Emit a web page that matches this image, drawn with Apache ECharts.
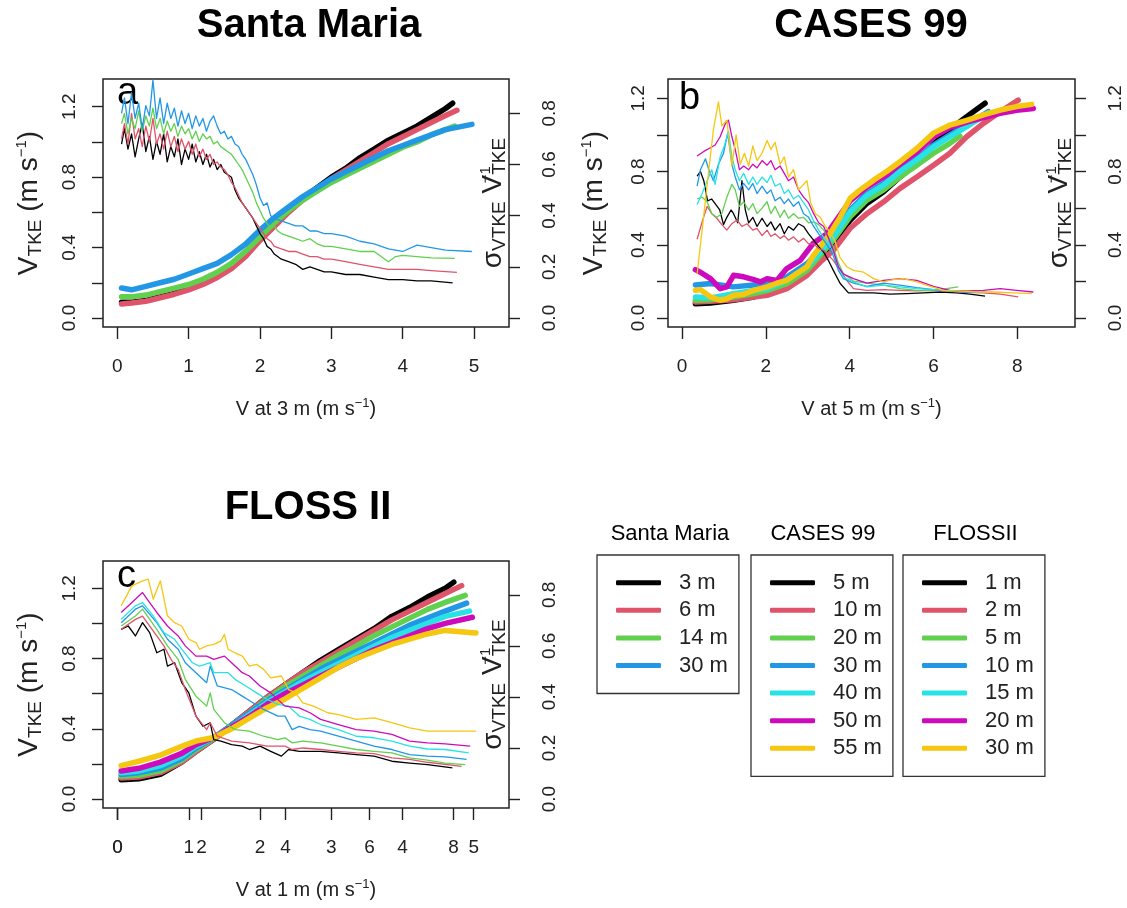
<!DOCTYPE html>
<html><head><meta charset="utf-8">
<script src="https://cdn.jsdelivr.net/npm/echarts@6/dist/echarts.min.js"></script>
<style>html,body{margin:0;padding:0;background:#fff}#chart{width:1127px;height:908px}</style>
</head><body><div id="chart"></div>
<script>
const FONT = '"Liberation Sans", Arial, Helvetica, sans-serif';
const COLORS = ['#000000', '#DF536B', '#61D04F', '#2297E6', '#28E2E5', '#CD0BBC', '#F5C710'];

// ---------- Santa Maria (x = V at 3 m) ----------
const smHeights = ['3 m', '6 m', '14 m', '30 m'];
const smV3 = [[0.06,0.09],[0.2,0.09],[0.4,0.10],[0.6,0.12],[0.8,0.14],[1.0,0.17],[1.2,0.20],[1.4,0.24],[1.6,0.29],[1.8,0.36],[2.0,0.45],[2.2,0.53],[2.4,0.61],[2.6,0.68],[2.8,0.74],[3.0,0.80],[3.2,0.85],[3.4,0.91],[3.6,0.96],[3.8,1.01],[4.0,1.05],[4.2,1.09],[4.4,1.14],[4.6,1.19],[4.7,1.22]];
const smV6 = [[0.06,0.08],[0.2,0.085],[0.4,0.095],[0.6,0.115],[0.8,0.135],[1.0,0.16],[1.2,0.19],[1.4,0.23],[1.6,0.28],[1.8,0.35],[2.0,0.44],[2.2,0.52],[2.4,0.60],[2.6,0.67],[2.8,0.73],[3.0,0.79],[3.2,0.84],[3.4,0.89],[3.6,0.94],[3.8,0.99],[4.0,1.03],[4.2,1.07],[4.4,1.11],[4.6,1.15],[4.76,1.18]];
const smV14 = [[0.06,0.12],[0.2,0.12],[0.4,0.13],[0.6,0.15],[0.8,0.17],[1.0,0.19],[1.2,0.22],[1.4,0.26],[1.6,0.31],[1.8,0.38],[2.0,0.46],[2.2,0.54],[2.4,0.61],[2.6,0.67],[2.8,0.72],[3.0,0.77],[3.2,0.81],[3.4,0.85],[3.6,0.89],[3.8,0.93],[4.0,0.97],[4.2,1.00],[4.4,1.04],[4.6,1.07],[4.73,1.09]];
const smV30 = [[0.06,0.17],[0.2,0.16],[0.4,0.18],[0.6,0.20],[0.8,0.22],[1.0,0.25],[1.2,0.28],[1.4,0.31],[1.6,0.36],[1.8,0.42],[2.0,0.50],[2.2,0.57],[2.4,0.63],[2.6,0.69],[2.8,0.74],[3.0,0.79],[3.2,0.83],[3.4,0.87],[3.6,0.91],[3.8,0.95],[4.0,0.98],[4.2,1.01],[4.4,1.04],[4.6,1.07],[4.97,1.10]];
const smS3 = [[0.06,0.68],[0.1,0.74],[0.15,0.66],[0.2,0.72],[0.25,0.63],[0.3,0.70],[0.35,0.76],[0.4,0.65],[0.45,0.71],[0.5,0.62],[0.55,0.69],[0.6,0.64],[0.65,0.72],[0.7,0.61],[0.75,0.67],[0.8,0.63],[0.85,0.70],[0.9,0.60],[0.95,0.66],[1.0,0.62],[1.05,0.68],[1.1,0.61],[1.15,0.65],[1.2,0.60],[1.25,0.64],[1.3,0.59],[1.35,0.62],[1.4,0.58],[1.45,0.60],[1.5,0.57],[1.55,0.56],[1.6,0.55],[1.65,0.50],[1.7,0.47],[1.75,0.45],[1.8,0.43],[1.85,0.41],[1.9,0.39],[1.95,0.36],[2.0,0.33],[2.05,0.31],[2.1,0.28],[2.15,0.27],[2.2,0.25],[2.3,0.23],[2.4,0.22],[2.5,0.21],[2.6,0.19],[2.7,0.20],[2.8,0.19],[2.9,0.18],[3.0,0.18],[3.2,0.17],[3.4,0.17],[3.6,0.16],[3.8,0.15],[4.0,0.15],[4.2,0.145],[4.4,0.145],[4.7,0.137]];
const smS6 = [[0.06,0.70],[0.1,0.76],[0.15,0.68],[0.2,0.80],[0.25,0.70],[0.3,0.74],[0.35,0.67],[0.4,0.75],[0.45,0.69],[0.5,0.78],[0.55,0.68],[0.6,0.72],[0.65,0.66],[0.7,0.73],[0.75,0.67],[0.8,0.71],[0.85,0.65],[0.9,0.70],[0.95,0.66],[1.0,0.69],[1.05,0.64],[1.1,0.68],[1.15,0.63],[1.2,0.66],[1.25,0.62],[1.3,0.64],[1.35,0.60],[1.4,0.61],[1.45,0.59],[1.5,0.58],[1.55,0.56],[1.6,0.53],[1.65,0.51],[1.7,0.48],[1.75,0.45],[1.8,0.43],[1.85,0.41],[1.9,0.39],[1.95,0.37],[2.0,0.35],[2.05,0.33],[2.1,0.31],[2.15,0.30],[2.2,0.28],[2.3,0.27],[2.4,0.26],[2.5,0.26],[2.6,0.25],[2.7,0.24],[2.8,0.24],[2.9,0.23],[3.0,0.23],[3.2,0.22],[3.4,0.21],[3.6,0.20],[3.8,0.19],[4.0,0.19],[4.2,0.19],[4.4,0.185],[4.76,0.178]];
const smS14 = [[0.06,0.76],[0.1,0.80],[0.15,0.72],[0.2,0.78],[0.25,0.74],[0.3,0.81],[0.35,0.73],[0.4,0.79],[0.45,0.75],[0.5,0.82],[0.55,0.74],[0.6,0.78],[0.65,0.72],[0.7,0.77],[0.75,0.73],[0.8,0.76],[0.85,0.71],[0.9,0.75],[0.95,0.72],[1.0,0.74],[1.05,0.70],[1.1,0.73],[1.15,0.69],[1.2,0.72],[1.25,0.70],[1.3,0.71],[1.35,0.68],[1.4,0.69],[1.45,0.67],[1.5,0.66],[1.55,0.65],[1.6,0.64],[1.65,0.62],[1.7,0.60],[1.75,0.58],[1.8,0.55],[1.85,0.52],[1.9,0.49],[1.95,0.45],[2.0,0.42],[2.05,0.39],[2.1,0.37],[2.15,0.35],[2.2,0.36],[2.25,0.34],[2.3,0.33],[2.4,0.32],[2.5,0.31],[2.6,0.30],[2.7,0.31],[2.8,0.29],[2.9,0.28],[3.0,0.28],[3.2,0.27],[3.4,0.26],[3.6,0.26],[3.8,0.22],[3.9,0.24],[4.0,0.245],[4.2,0.24],[4.4,0.235],[4.73,0.233]];
const smS30 = [[0.06,0.80],[0.1,0.86],[0.15,0.76],[0.2,0.88],[0.25,0.78],[0.3,0.84],[0.35,0.74],[0.4,0.83],[0.45,0.79],[0.5,0.93],[0.55,0.78],[0.6,0.86],[0.65,0.76],[0.7,0.84],[0.75,0.78],[0.8,0.82],[0.85,0.75],[0.9,0.81],[0.95,0.76],[1.0,0.80],[1.05,0.74],[1.1,0.79],[1.15,0.75],[1.2,0.78],[1.25,0.73],[1.3,0.77],[1.35,0.79],[1.4,0.75],[1.45,0.72],[1.5,0.73],[1.55,0.70],[1.6,0.71],[1.65,0.68],[1.7,0.67],[1.75,0.64],[1.8,0.62],[1.85,0.59],[1.9,0.56],[1.95,0.52],[2.0,0.47],[2.05,0.44],[2.1,0.45],[2.15,0.40],[2.2,0.39],[2.3,0.38],[2.4,0.37],[2.5,0.36],[2.6,0.36],[2.7,0.34],[2.8,0.34],[2.9,0.33],[3.0,0.33],[3.2,0.32],[3.4,0.30],[3.6,0.29],[3.8,0.27],[4.0,0.26],[4.2,0.285],[4.4,0.275],[4.6,0.265],[4.97,0.26]];

// ---------- CASES 99 (x = V at 5 m) ----------
const csHeights = ['5 m', '10 m', '20 m', '30 m', '40 m', '50 m', '55 m'];
const csV5 = [[0.32,0.078],[0.68,0.082],[1.23,0.097],[1.71,0.115],[2.03,0.133],[2.50,0.17],[2.98,0.25],[3.30,0.325],[3.61,0.416],[4.01,0.534],[4.41,0.626],[4.81,0.69],[5.20,0.77],[5.60,0.845],[6.00,0.95],[6.39,1.03],[6.79,1.10],[7.23,1.173]];
const csV10 = [[0.32,0.088],[0.68,0.092],[1.23,0.10],[1.71,0.115],[2.03,0.124],[2.50,0.16],[2.98,0.233],[3.30,0.306],[3.61,0.37],[4.01,0.49],[4.41,0.57],[4.81,0.635],[5.20,0.708],[5.60,0.77],[6.00,0.835],[6.39,0.90],[6.79,0.99],[7.19,1.063],[7.59,1.127],[8.02,1.19]];
const csV20 = [[0.32,0.097],[0.68,0.10],[1.23,0.115],[1.71,0.133],[2.03,0.15],[2.50,0.188],[2.98,0.26],[3.30,0.343],[3.61,0.425],[4.01,0.553],[4.41,0.644],[4.81,0.70],[5.20,0.77],[5.60,0.835],[6.00,0.90],[6.39,0.954],[6.63,0.994]];
const csV30 = [[0.32,0.18],[0.68,0.188],[1.23,0.17],[1.71,0.18],[2.03,0.188],[2.50,0.224],[2.98,0.297],[3.30,0.37],[3.61,0.45],[4.01,0.59],[4.41,0.68],[4.81,0.735],[5.20,0.81],[5.60,0.87],[6.00,0.945],[6.39,1.0],[6.79,1.054],[7.31,1.127]];
const csV40 = [[0.32,0.115],[0.68,0.11],[1.23,0.133],[1.71,0.15],[2.03,0.16],[2.50,0.206],[2.98,0.28],[3.30,0.36],[3.61,0.443],[4.01,0.58],[4.41,0.67],[4.81,0.726],[5.20,0.80],[5.60,0.863],[6.00,0.935],[6.39,0.99],[6.79,1.045],[7.31,1.12]];
const csV50 = [[0.32,0.264],[0.44,0.25],[0.68,0.215],[0.91,0.16],[1.07,0.17],[1.23,0.233],[1.47,0.225],[1.71,0.21],[1.87,0.197],[2.03,0.215],[2.26,0.205],[2.50,0.27],[2.82,0.315],[3.14,0.41],[3.46,0.46],[3.61,0.51],[4.01,0.64],[4.41,0.715],[4.88,0.78],[5.20,0.84],[5.60,0.905],[6.00,0.99],[6.39,1.04],[6.79,1.07],[7.19,1.095],[7.59,1.118],[7.98,1.135],[8.38,1.145]];
const csV55 = [[0.32,0.151],[0.44,0.155],[0.68,0.115],[0.91,0.097],[1.07,0.105],[1.23,0.124],[1.47,0.13],[1.71,0.151],[2.03,0.17],[2.26,0.19],[2.50,0.206],[2.74,0.243],[2.98,0.28],[3.14,0.343],[3.30,0.39],[3.53,0.46],[3.77,0.55],[4.01,0.653],[4.25,0.70],[4.57,0.753],[4.88,0.80],[5.20,0.854],[5.60,0.926],[6.00,1.01],[6.39,1.054],[6.79,1.08],[7.19,1.11],[7.59,1.136],[7.98,1.155],[8.34,1.167]];
const csS5 = [[0.36,0.775],[0.44,0.80],[0.52,0.75],[0.61,0.64],[0.71,0.65],[0.79,0.625],[0.90,0.59],[0.99,0.51],[1.07,0.55],[1.17,0.59],[1.23,0.57],[1.33,0.52],[1.43,0.75],[1.51,0.59],[1.59,0.52],[1.69,0.55],[1.79,0.50],[1.91,0.545],[2.03,0.50],[2.12,0.525],[2.22,0.48],[2.34,0.515],[2.44,0.46],[2.54,0.50],[2.66,0.48],[2.78,0.515],[2.90,0.50],[3.02,0.46],[3.14,0.425],[3.26,0.39],[3.38,0.36],[3.49,0.315],[3.61,0.26],[3.77,0.19],[3.97,0.137],[4.25,0.137],[4.57,0.137],[4.96,0.13],[5.36,0.133],[5.76,0.137],[6.16,0.142],[6.55,0.137],[6.87,0.13],[7.23,0.12]];
const csS10 = [[0.36,0.43],[0.48,0.525],[0.60,0.61],[0.71,0.57],[0.83,0.545],[0.95,0.51],[1.07,0.48],[1.19,0.515],[1.31,0.535],[1.43,0.50],[1.55,0.515],[1.69,0.48],[1.79,0.49],[1.91,0.45],[2.03,0.48],[2.12,0.445],[2.22,0.46],[2.34,0.435],[2.44,0.45],[2.54,0.425],[2.66,0.443],[2.78,0.415],[2.90,0.435],[3.02,0.405],[3.14,0.405],[3.26,0.38],[3.38,0.37],[3.49,0.343],[3.61,0.315],[3.77,0.26],[3.93,0.206],[4.09,0.16],[4.41,0.151],[4.81,0.155],[5.20,0.151],[5.60,0.148],[6.00,0.151],[6.39,0.146],[6.79,0.14],[7.19,0.137],[7.59,0.13],[8.02,0.115]];
const csS20 = [[0.36,0.65],[0.48,0.66],[0.60,0.635],[0.71,0.57],[0.83,0.55],[0.95,0.57],[1.07,0.66],[1.19,0.73],[1.27,0.70],[1.37,0.61],[1.47,0.635],[1.59,0.59],[1.69,0.625],[1.79,0.57],[1.91,0.60],[2.03,0.635],[2.12,0.57],[2.22,0.61],[2.34,0.55],[2.44,0.59],[2.54,0.545],[2.66,0.57],[2.78,0.545],[2.90,0.55],[3.02,0.52],[3.14,0.525],[3.26,0.51],[3.38,0.48],[3.49,0.44],[3.61,0.39],[3.73,0.30],[3.85,0.243],[4.09,0.202],[4.41,0.19],[4.81,0.18],[5.20,0.16],[5.60,0.151],[6.00,0.151],[6.31,0.16],[6.59,0.17]];
const csS30 = [[0.36,0.72],[0.44,0.81],[0.56,0.87],[0.64,0.81],[0.75,0.75],[0.87,0.84],[0.99,0.90],[1.09,1.01],[1.19,0.84],[1.27,0.77],[1.37,0.70],[1.47,0.735],[1.59,0.70],[1.69,0.735],[1.79,0.68],[1.91,0.72],[2.03,0.68],[2.12,0.70],[2.22,0.64],[2.34,0.66],[2.44,0.625],[2.54,0.65],[2.66,0.61],[2.78,0.635],[2.90,0.57],[3.02,0.55],[3.14,0.50],[3.26,0.46],[3.38,0.425],[3.49,0.39],[3.61,0.34],[3.73,0.26],[3.85,0.215],[4.09,0.19],[4.41,0.173],[4.81,0.19],[5.20,0.18],[5.60,0.166],[6.00,0.155],[6.39,0.148],[6.79,0.142],[7.27,0.14]];
const csS40 = [[0.36,0.62],[0.48,0.68],[0.60,0.75],[0.71,0.81],[0.79,0.73],[0.91,0.88],[1.01,0.94],[1.11,1.02],[1.19,0.88],[1.27,0.81],[1.37,0.75],[1.47,0.79],[1.59,0.73],[1.69,0.77],[1.79,0.73],[1.91,0.77],[2.03,0.74],[2.12,0.78],[2.22,0.72],[2.34,0.735],[2.44,0.68],[2.54,0.70],[2.66,0.65],[2.78,0.67],[2.90,0.63],[3.02,0.59],[3.14,0.53],[3.26,0.48],[3.38,0.44],[3.49,0.41],[3.61,0.36],[3.73,0.28],[3.85,0.224],[4.09,0.197],[4.41,0.17],[4.81,0.18],[5.20,0.17],[5.60,0.16],[6.00,0.155],[6.39,0.148],[6.79,0.144],[7.27,0.142]];
const csS50 = [[0.36,0.885],[0.52,0.91],[0.68,0.93],[0.79,0.945],[0.91,0.99],[1.03,1.06],[1.11,1.08],[1.19,0.99],[1.27,0.92],[1.37,0.81],[1.47,0.83],[1.59,0.81],[1.69,0.84],[1.79,0.82],[1.91,0.86],[2.03,0.835],[2.12,0.86],[2.22,0.81],[2.34,0.83],[2.44,0.79],[2.54,0.75],[2.66,0.77],[2.78,0.70],[2.90,0.66],[3.02,0.63],[3.14,0.57],[3.26,0.52],[3.38,0.50],[3.49,0.44],[3.61,0.37],[3.73,0.28],[3.85,0.24],[4.09,0.215],[4.41,0.19],[4.81,0.205],[5.20,0.215],[5.60,0.205],[6.00,0.173],[6.39,0.151],[6.79,0.148],[7.19,0.151],[7.59,0.16],[7.98,0.151],[8.38,0.142]];
const csS55 = [[0.36,0.24],[0.48,0.48],[0.64,0.81],[0.75,1.03],[0.87,1.18],[0.95,1.05],[1.07,1.08],[1.19,0.83],[1.29,1.00],[1.39,0.84],[1.49,0.90],[1.59,0.83],[1.69,0.94],[1.79,0.86],[1.91,0.90],[2.03,0.97],[2.12,0.92],[2.22,0.96],[2.34,0.84],[2.44,0.88],[2.54,0.77],[2.66,0.81],[2.78,0.70],[2.90,0.73],[2.98,0.75],[3.07,0.63],[3.18,0.57],[3.30,0.55],[3.42,0.50],[3.53,0.47],[3.65,0.42],[3.77,0.33],[3.93,0.28],[4.09,0.26],[4.33,0.25],[4.57,0.215],[4.81,0.197],[5.04,0.21],[5.28,0.215],[5.60,0.197],[5.92,0.173],[6.24,0.151],[6.63,0.148],[7.03,0.142],[7.43,0.142],[7.90,0.137],[8.34,0.133]];

// ---------- FLOSS II (x = V at 1 m) ----------
const flHeights = ['1 m', '2 m', '5 m', '10 m', '15 m', '20 m', '30 m'];
const flV1 = [[0.05,0.11],[0.3,0.115],[0.6,0.14],[0.9,0.21],[1.1,0.27],[1.35,0.34],[1.6,0.42],[1.85,0.50],[2.1,0.58],[2.35,0.65],[2.6,0.72],[2.85,0.79],[3.1,0.85],[3.35,0.91],[3.6,0.97],[3.85,1.04],[4.1,1.09],[4.35,1.15],[4.6,1.20],[4.72,1.235]];
const flV2 = [[0.05,0.12],[0.3,0.125],[0.6,0.15],[0.9,0.21],[1.1,0.27],[1.35,0.34],[1.6,0.42],[1.85,0.50],[2.1,0.58],[2.35,0.65],[2.6,0.72],[2.85,0.78],[3.1,0.84],[3.35,0.90],[3.6,0.96],[3.85,1.02],[4.1,1.07],[4.35,1.12],[4.6,1.17],[4.83,1.215]];
const flV5 = [[0.05,0.13],[0.3,0.135],[0.6,0.16],[0.9,0.22],[1.1,0.28],[1.35,0.345],[1.6,0.42],[1.85,0.49],[2.1,0.57],[2.35,0.64],[2.6,0.70],[2.85,0.76],[3.1,0.82],[3.35,0.87],[3.6,0.93],[3.85,0.98],[4.1,1.03],[4.35,1.08],[4.6,1.12],[4.88,1.16]];
const flV10 = [[0.05,0.14],[0.3,0.15],[0.6,0.175],[0.9,0.23],[1.1,0.29],[1.35,0.35],[1.6,0.42],[1.85,0.49],[2.1,0.56],[2.35,0.62],[2.6,0.68],[2.85,0.74],[3.1,0.79],[3.35,0.84],[3.6,0.89],[3.85,0.94],[4.1,0.99],[4.35,1.03],[4.6,1.07],[4.9,1.115]];
const flV15 = [[0.05,0.15],[0.3,0.16],[0.6,0.19],[0.9,0.245],[1.1,0.30],[1.35,0.35],[1.6,0.41],[1.85,0.48],[2.1,0.55],[2.35,0.61],[2.6,0.67],[2.85,0.72],[3.1,0.77],[3.35,0.82],[3.6,0.87],[3.85,0.92],[4.1,0.96],[4.35,1.00],[4.6,1.04],[4.94,1.07]];
const flV20 = [[0.05,0.16],[0.3,0.175],[0.6,0.21],[0.9,0.26],[1.1,0.31],[1.35,0.35],[1.6,0.41],[1.85,0.47],[2.1,0.54],[2.35,0.60],[2.6,0.65],[2.85,0.70],[3.1,0.75],[3.35,0.80],[3.6,0.85],[3.85,0.89],[4.1,0.93],[4.35,0.97],[4.6,1.00],[4.98,1.035]];
const flV30 = [[0.05,0.19],[0.3,0.215],[0.6,0.25],[0.9,0.30],[1.1,0.33],[1.35,0.35],[1.6,0.40],[1.85,0.46],[2.1,0.52],[2.35,0.57],[2.6,0.63],[2.85,0.69],[3.1,0.75],[3.35,0.80],[3.6,0.84],[3.85,0.88],[4.1,0.91],[4.35,0.94],[4.6,0.96],[5.03,0.945]];
const flS1 = [[0.05,0.665],[0.15,0.678],[0.25,0.639],[0.35,0.691],[0.45,0.652],[0.55,0.573],[0.65,0.587],[0.7,0.521],[0.8,0.534],[0.9,0.456],[1.0,0.416],[1.1,0.325],[1.2,0.285],[1.3,0.299],[1.35,0.233],[1.45,0.227],[1.6,0.213],[1.75,0.207],[1.85,0.194],[2.0,0.207],[2.15,0.187],[2.3,0.168],[2.4,0.194],[2.55,0.187],[2.7,0.187],[2.85,0.187],[3.1,0.181],[3.35,0.174],[3.6,0.168],[3.85,0.148],[4.1,0.141],[4.35,0.135],[4.7,0.122]];
const flS2 = [[0.05,0.665],[0.25,0.704],[0.35,0.717],[0.55,0.639],[0.65,0.60],[0.75,0.547],[0.85,0.508],[0.95,0.429],[1.1,0.325],[1.25,0.272],[1.3,0.299],[1.4,0.246],[1.6,0.227],[1.85,0.22],[2.1,0.207],[2.35,0.207],[2.45,0.194],[2.6,0.20],[2.85,0.194],[3.1,0.187],[3.35,0.181],[3.6,0.178],[3.85,0.161],[4.1,0.155],[4.35,0.144],[4.83,0.128]];
const flS5 = [[0.05,0.678],[0.25,0.717],[0.35,0.744],[0.55,0.665],[0.7,0.60],[0.85,0.547],[0.95,0.469],[1.1,0.403],[1.25,0.364],[1.3,0.416],[1.35,0.351],[1.5,0.299],[1.65,0.272],[1.85,0.266],[2.05,0.246],[2.25,0.233],[2.35,0.24],[2.45,0.22],[2.6,0.227],[2.85,0.22],[3.1,0.207],[3.35,0.194],[3.6,0.187],[3.85,0.181],[4.1,0.161],[4.35,0.152],[4.6,0.141],[4.88,0.135]];
const flS10 = [[0.05,0.691],[0.25,0.744],[0.35,0.757],[0.55,0.691],[0.7,0.626],[0.85,0.587],[0.95,0.534],[1.1,0.495],[1.25,0.456],[1.3,0.521],[1.4,0.443],[1.6,0.429],[1.75,0.403],[1.9,0.377],[2.05,0.351],[2.25,0.325],[2.35,0.325],[2.45,0.272],[2.55,0.285],[2.7,0.272],[2.85,0.266],[3.1,0.246],[3.35,0.227],[3.6,0.207],[3.85,0.194],[4.1,0.174],[4.35,0.168],[4.6,0.165],[4.9,0.155]];
const flS15 = [[0.05,0.704],[0.25,0.757],[0.35,0.77],[0.5,0.718],[0.65,0.652],[0.8,0.626],[0.9,0.587],[1.05,0.534],[1.15,0.521],[1.3,0.534],[1.35,0.495],[1.55,0.495],[1.65,0.469],[1.8,0.443],[1.95,0.416],[2.1,0.39],[2.25,0.371],[2.4,0.364],[2.55,0.325],[2.7,0.312],[2.85,0.292],[3.1,0.272],[3.35,0.246],[3.6,0.24],[3.85,0.227],[4.1,0.207],[4.35,0.196],[4.6,0.194],[4.93,0.181]];
const flS20 = [[0.05,0.731],[0.25,0.783],[0.35,0.809],[0.45,0.77],[0.55,0.731],[0.7,0.678],[0.85,0.639],[0.95,0.60],[1.1,0.56],[1.25,0.56],[1.35,0.547],[1.5,0.56],[1.6,0.534],[1.75,0.495],[1.85,0.482],[2.0,0.443],[2.15,0.416],[2.35,0.364],[2.55,0.357],[2.7,0.338],[2.85,0.312],[3.1,0.292],[3.35,0.272],[3.6,0.266],[3.85,0.253],[4.1,0.227],[4.35,0.22],[4.6,0.216],[4.95,0.207]];
const flS30 = [[0.05,0.757],[0.2,0.835],[0.35,0.855],[0.43,0.862],[0.5,0.783],[0.6,0.855],[0.7,0.718],[0.8,0.691],[0.9,0.678],[1.0,0.626],[1.1,0.613],[1.15,0.587],[1.25,0.60],[1.35,0.606],[1.45,0.619],[1.5,0.645],[1.55,0.587],[1.65,0.573],[1.75,0.56],[1.85,0.521],[1.95,0.528],[2.05,0.508],[2.15,0.475],[2.3,0.482],[2.4,0.429],[2.5,0.416],[2.6,0.377],[2.75,0.364],[2.95,0.338],[3.1,0.331],[3.35,0.312],[3.6,0.318],[3.85,0.299],[4.1,0.279],[4.35,0.266],[4.6,0.266],[5.03,0.266]];

// ---------- axis ticks ----------
const xTicks5 = [0, 1, 2, 3, 4, 5];
const xTicks8 = [0, 2, 4, 6, 8];
const yTicks12 = [0, 0.2, 0.4, 0.6, 0.8, 1.0, 1.2];
const yLabels12 = [0, 0.4, 0.8, 1.2];
const yTicks08 = [0, 0.2, 0.4, 0.6, 0.8];

const INK = '#222';
const nameRich = {
  v: { fontFamily: FONT, fontSize: 28, color: INK, lineHeight: 31, verticalAlign: 'middle' },
  s: { fontFamily: FONT, fontSize: 19, color: INK, lineHeight: 19, verticalAlign: 'bottom' },
  p: { fontFamily: FONT, fontSize: 15, color: INK, lineHeight: 16, verticalAlign: 'top' },
  q: { fontFamily: FONT, fontSize: 15, color: INK, lineHeight: 16, verticalAlign: 'top', width: 0 }
};
const xRich = {
  x: { fontFamily: FONT, fontSize: 20, color: INK, lineHeight: 24, verticalAlign: 'middle' },
  y: { fontFamily: FONT, fontSize: 13, color: INK, lineHeight: 13, verticalAlign: 'top' }
};
const LEFT_NAME = '{v|V}{s|TKE}{v| (m s}{p|\u22121}{v|)}';
const RIGHT_NAME = '{v|\u03c3}{s|VTKE}{v| V}{q|\u22121}{s|TKE}';

function xAx(grid, min, max, ticks, name) {
  return {
    type: 'value', gridIndex: grid, position: 'bottom', min: min, max: max,
    axisLine: { show: false, onZero: false }, splitLine: { show: false },
    axisTick: { show: true, length: 12, customValues: ticks, lineStyle: { color: INK, width: 1.4 } },
    axisLabel: { customValues: ticks, margin: 30, formatter: v => String(Math.round(v)), color: INK, fontSize: 19, fontFamily: FONT },
    name: name ? '{x|' + name + '}{y|\u22121}{x|)}' : '', nameLocation: 'middle', nameGap: 70,
    nameMoveOverlap: false, nameTextStyle: { rich: xRich }
  };
}
function yAx(grid, pos, min, max, ticks, labels, name, gap, margin) {
  return {
    type: 'value', gridIndex: grid, position: pos, min: min, max: max,
    axisLine: { show: false, onZero: false }, splitLine: { show: false },
    axisTick: { show: true, length: 11, customValues: ticks, lineStyle: { color: INK, width: 1.4 } },
    axisLabel: { customValues: labels, rotate: 90, margin: margin, formatter: v => v.toFixed(1), color: INK, fontSize: 19, fontFamily: FONT },
    name: name, nameLocation: 'middle', nameRotate: 90, nameGap: gap, nameMoveOverlap: false,
    nameTextStyle: { rich: nameRich }
  };
}

const gridStyle = { show: true, borderColor: INK, borderWidth: 1.5, backgroundColor: 'transparent', containLabel: false, outerBoundsMode: 'none' };
const grids = [
  Object.assign({ left: 103, top: 79, width: 406, height: 248 }, gridStyle),
  Object.assign({ left: 668, top: 79, width: 407, height: 248 }, gridStyle),
  Object.assign({ left: 103, top: 561, width: 406, height: 247 }, gridStyle)
];

const xAxes = [
  xAx(0, -0.2, 5.49, xTicks5, 'V at 3 m (m s'),
  xAx(1, -0.334, 9.375, xTicks8, 'V at 5 m (m s'),
  xAx(2, -0.205, 5.495, xTicks5, 'V at 1 m (m s'),
  xAx(2, -0.347, 9.322, xTicks8, '')
];
const yAxes = [
  yAx(0, 'left', -0.0512, 1.3576, yTicks12, yLabels12, LEFT_NAME, 58, 24),
  yAx(0, 'right', -0.0352, 0.9342, yTicks08, yTicks08, RIGHT_NAME, -31, 31),
  yAx(1, 'left', -0.0492, 1.3056, yTicks12, yLabels12, LEFT_NAME, 58, 20),
  yAx(1, 'right', -0.0492, 1.3056, yTicks12, yLabels12, RIGHT_NAME, -31, 31),
  yAx(2, 'left', -0.0512, 1.3553, yTicks12, yLabels12, LEFT_NAME, 58, 24),
  yAx(2, 'right', -0.0352, 0.9327, yTicks08, yTicks08, RIGHT_NAME, -31, 31)
];

const panels = [
  { key: 'SM', x: 0, yL: 0, yR: 1, labels: smHeights, thick: [smV3, smV6, smV14, smV30], thin: [smS3, smS6, smS14, smS30] },
  { key: 'CS', x: 1, yL: 2, yR: 3, labels: csHeights, thick: [csV5, csV10, csV20, csV30, csV40, csV50, csV55], thin: [csS5, csS10, csS20, csS30, csS40, csS50, csS55] },
  { key: 'FL', x: 2, yL: 4, yR: 5, labels: flHeights, thick: [flV1, flV2, flV5, flV10, flV15, flV20, flV30], thin: [flS1, flS2, flS5, flS10, flS15, flS20, flS30] }
];

const series = [];
panels.forEach(p => p.thick.forEach((d, i) => series.push({
  type: 'line', name: p.key + '|' + p.labels[i], xAxisIndex: p.x, yAxisIndex: p.yL, data: d,
  symbol: 'none', showSymbol: false, silent: true, z: 2,
  lineStyle: { color: COLORS[i], width: 5.5, cap: 'round', join: 'round' }, itemStyle: { color: COLORS[i] }
})));
panels.forEach(p => p.thin.forEach((d, i) => series.push({
  type: 'line', name: p.key + '|' + p.labels[i] + '|thin', xAxisIndex: p.x, yAxisIndex: p.yR, data: d,
  symbol: 'none', showSymbol: false, silent: true, z: 3,
  lineStyle: { color: COLORS[i], width: 1.3, join: 'round' }, itemStyle: { color: COLORS[i] }
})));

function legendCfg(key, labels, left) {
  return {
    orient: 'vertical', left: left, top: 555, padding: [16.7, 11, 17, 19], itemGap: 5.6,
    itemWidth: 45, itemHeight: 5, icon: 'roundRect', selectedMode: false,
    borderColor: '#333', borderWidth: 1.3, backgroundColor: 'transparent',
    data: labels.map(h => key + '|' + h),
    formatter: n => '{t|' + n.split('|')[1] + '}',
    textStyle: { fontFamily: FONT, fontSize: 22, color: INK,
      rich: { t: { fontFamily: FONT, fontSize: 22, color: INK, width: 52, padding: [0, 0, 0, 13] } } }
  };
}

function txt(x, y, text, font, align) {
  return { type: 'text', x: x, y: y, silent: true, style: { text: text, font: font, fill: '#000',
    align: align || 'center', verticalAlign: 'middle', textAlign: align || 'center', textVerticalAlign: 'middle' } };
}
const graphics = [
  txt(309, 26, 'Santa Maria', 'bold 40px ' + FONT),
  txt(871, 26, 'CASES 99', 'bold 40px ' + FONT),
  txt(308, 508, 'FLOSS II', 'bold 40px ' + FONT),
  txt(117, 94, 'a', '38px ' + FONT, 'left'),
  txt(679, 99, 'b', '38px ' + FONT, 'left'),
  txt(117, 577, 'c', '38px ' + FONT, 'left'),
  txt(670, 534, 'Santa Maria', '22px ' + FONT),
  txt(823, 534, 'CASES 99', '22px ' + FONT),
  txt(975.5, 534, 'FLOSSII', '22px ' + FONT)
];

const chart = echarts.init(document.getElementById('chart'), null, { renderer: 'canvas' });
chart.setOption({
  animation: false,
  backgroundColor: '#fff',
  grid: grids,
  xAxis: xAxes,
  yAxis: yAxes,
  legend: [legendCfg('SM', smHeights, 597), legendCfg('CS', csHeights, 751), legendCfg('FL', flHeights, 903)],
  graphic: graphics,
  series: series
});
</script></body></html>
